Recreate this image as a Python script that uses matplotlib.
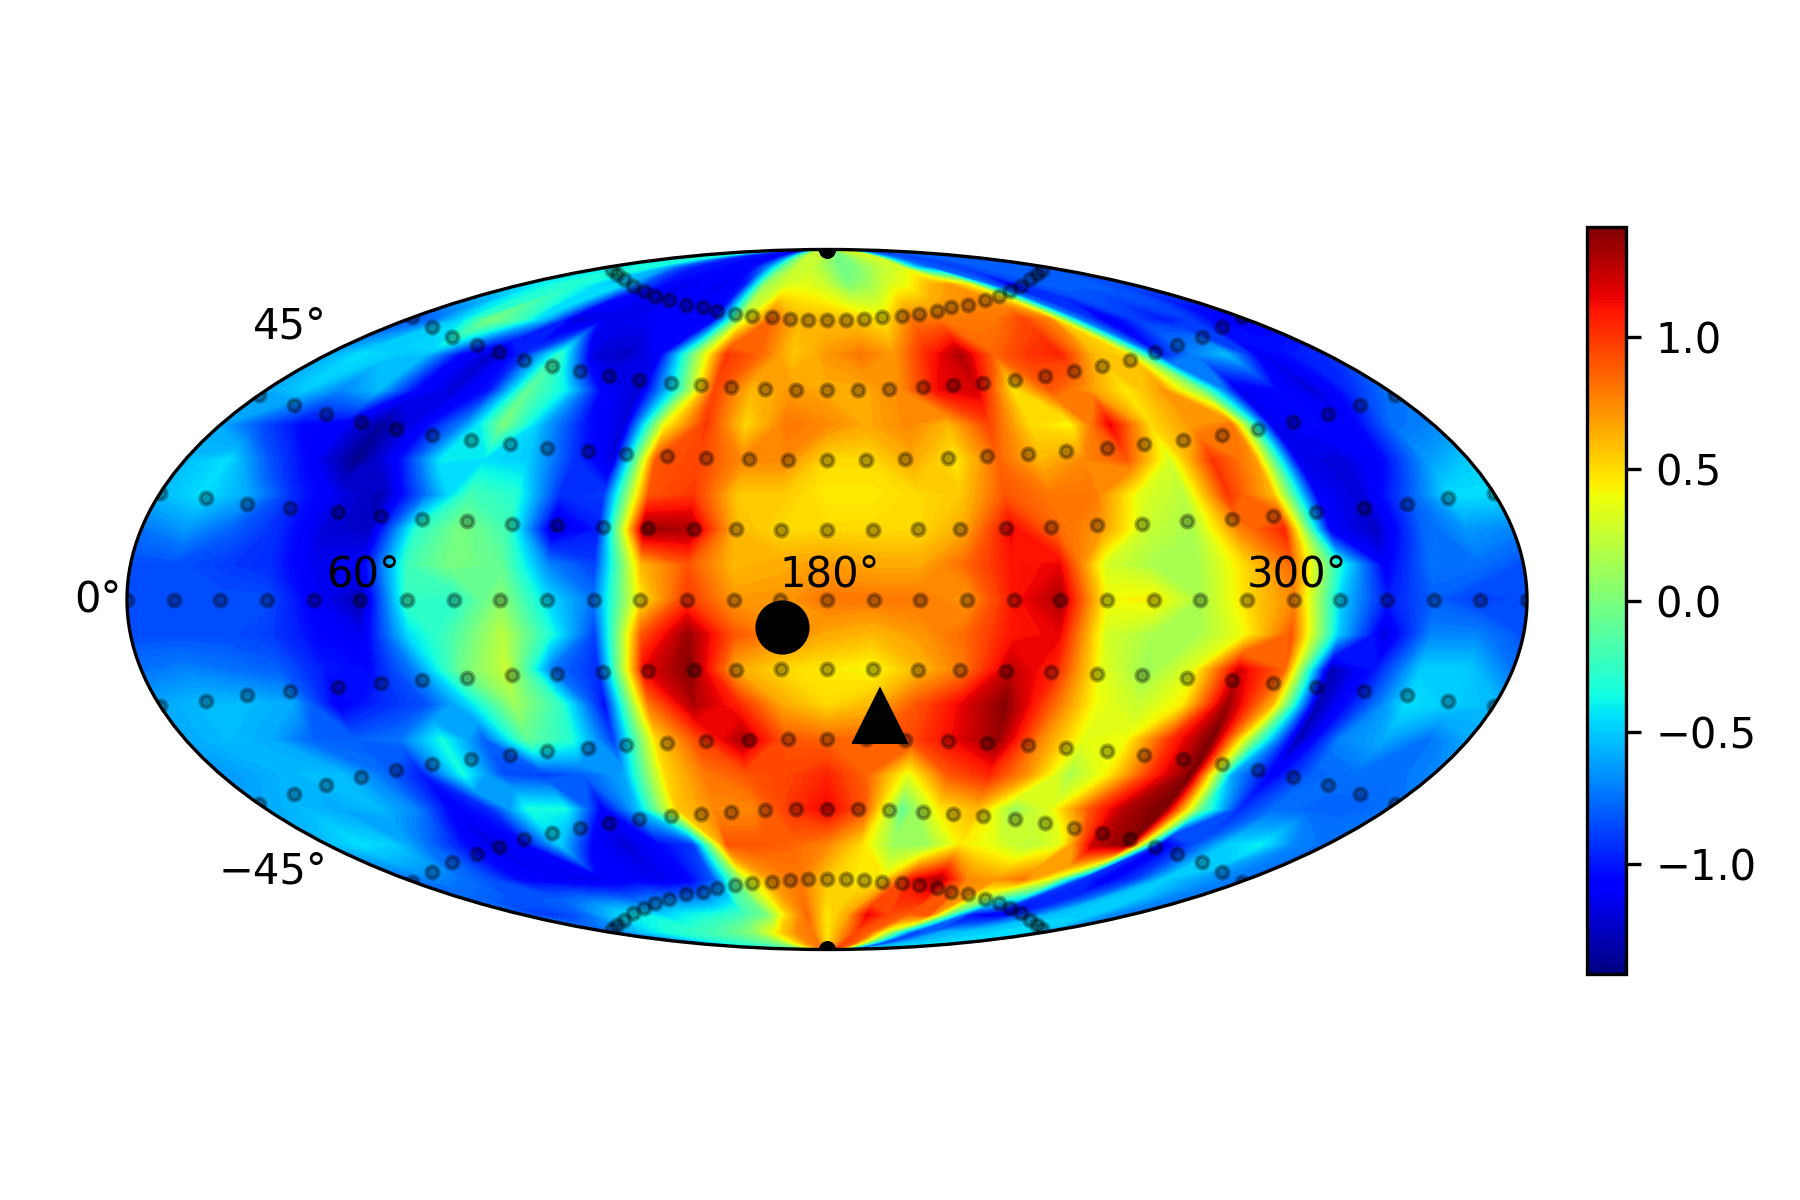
import numpy as np
import matplotlib
matplotlib.use('Agg')
import matplotlib.pyplot as plt
from matplotlib.cm import ScalarMappable
from matplotlib.colors import Normalize
from matplotlib.transforms import Affine2D

# field: one row per latitude, one column per longitude (0..360 deg, 12 deg steps)
lons_deg = np.arange(0, 361, 12)
lats_deg = [-90, -80.6, -74.3, -63.6, -54.3, -45.6, -37.5, -29.7, -22.1, -14.65, -7.3, 0,
            7.3, 14.65, 22.1, 29.7, 37.5, 45.6, 54.3, 63.6, 74.3, 80.6, 90]

s90 = [-.75,-.7,-.55,-.45,-.35,-.3,-.25,-.2,-.15,-.05,.05,.3,.55,.75,.8,.45,.7,.95,.85,.3,-.3,-.9,-.8,-.6,-.55,-.5,-.5,-.45,-.45,-.5,-.6]
s81 = [-.75,-.7,-.55,-.45,-.35,-.3,-.25,-.2,-.15,-.05,.05,.3,.55,.75,.8,.45,.7,.95,.85,.3,-.3,-.9,-.8,-.6,-.55,-.5,-.5,-.45,-.45,-.5,-.6]
s74 = [-.8,-.9,-.9,-.8,-.6,-.45,-.4,-.5,-.4,-.35,-.3,-.2,-.05,.5,.85,.45,.65,1.15,.95,.85,.9,-.1,-1.0,-1.1,-1.05,-.8,-.55,-.5,-.5,-.7,-.75]
s64 = [-.75,-.7,-.75,-.85,-1.05,-1.1,-1.15,-1.15,-1.1,-1.15,-1.1,-.8,.2,.7,.8,.55,.45,.45,1.1,1.3,.75,.7,.8,.3,-.9,-1.1,-.9,-.5,-.6,-.7,-.75]
s54 = [-.55,-.45,-.5,-.75,-1.0,-1.2,-1.05,-.5,-1.1,-1.2,-1.05,-.9,.9,.9,.85,.75,.5,.1,.1,.45,.35,.2,.35,1.25,1.4,-1.15,-.85,-.5,-.4,-.7,-.75]
s46 = [-.6,-.55,-.6,-.55,-.7,-1.1,-.95,-.35,-.35,-1.1,-.5,.55,.75,.75,1.0,1.15,.9,-.1,.45,.6,.1,.35,.9,1.3,1.43,-.1,-.95,-.75,-.8,-.8,-.75]
s38 = [-.65,-.6,-.55,-.55,-.75,-1.0,-.35,-.85,-.9,-.8,-.6,.5,.8,.9,.95,1.05,.85,.35,.9,1.05,.7,.15,.45,1.0,1.43,-.6,-1.1,-.8,-.75,-.75,-.7]
s30 = [-.6,-.55,-.6,-.8,-.8,-.75,-.35,-.8,-.1,-.3,-.9,.5,.95,1.3,.9,.85,.85,.95,1.15,1.35,.75,.35,.4,1.0,1.43,-.05,-1.3,-.7,-.6,-.75,-.6]
s22 = [-.6,-.55,-.55,-.6,-1.1,-.95,-.85,-.45,.1,-.25,-1.05,.8,1.3,1.05,.65,.5,.6,.9,1.15,1.4,.9,.4,.25,.45,1.35,.6,-1.3,-.9,-.45,-.5,-.55]
s15 = [-.75,-.7,-.75,-.8,-1.0,-1.05,-.7,-.05,.25,-.75,-.95,1.15,1.4,.65,.5,.45,.4,.6,.8,1.25,1.05,.35,.1,.35,1.2,.85,-1.3,-1.0,-.5,-.5,-.75]
s07 = [-.85,-.85,-.85,-.9,-1.05,-1.15,-.45,-.15,.2,-.3,-.9,.9,1.35,.9,.75,.65,.6,.7,.85,1.1,1.15,.3,.15,.15,.4,.9,-.5,-1.2,-.7,-.7,-.85]
eq0 = [-.85,-.85,-.85,-.85,-1.1,-1.3,-.25,-.3,.05,-.45,-.75,.45,1.0,.7,.7,.8,.8,.8,.7,1.1,1.3,.4,.45,.15,.5,.75,-.5,-1.0,-.8,-.9,-.85]
n07 = [-.85,-.85,-.9,-.95,-1.15,-1.1,-.2,0,-.1,-.7,-.9,.6,.9,.6,.65,.7,.65,.65,.85,1.1,1.15,.3,.15,.15,.5,.85,-.3,-1.1,-.75,-.75,-.85]
n15 = [-.75,-.65,-.8,-.95,-1.2,-1.25,-.3,0,-.2,-1.2,-1.0,1.35,1.3,.6,.5,.5,.5,.5,.65,1.15,.85,.7,.25,.15,.75,1.05,-1.1,-1.25,-.8,-.65,-.7]
n22 = [-.55,-.45,-.6,-.95,-1.15,-1.3,-.75,-.2,-.3,-.95,-.9,.9,1.0,.55,.55,.45,.45,.5,.55,.9,.8,.8,.35,.2,1.0,.6,-1.1,-1.2,-.85,-.45,-.45]
n30 = [-.55,-.45,-.85,-1.1,-1.4,-1.05,-.4,-.45,-.5,-.9,-1.2,.9,.95,.75,.75,.5,.5,.65,.45,.85,.6,.75,.9,.3,1.0,.7,-1.15,-1.2,-1.05,-.65,-.5]
n38 = [-.6,-.85,-1.05,-1.1,-1.35,-1.1,-.7,0,-.6,-1.0,-1.2,.4,1.0,.5,.8,.75,.65,.75,.6,.95,.5,.4,1.15,.5,.7,.8,-1.15,-1.05,-1.1,-.75,-.7]
n46 = [-.6,-.5,-.7,-.55,-1.05,-1.2,-1.0,-.1,-.4,-1.1,-1.2,-.3,.95,.6,.7,.65,.65,.75,1.15,1.2,.45,.9,.7,.45,.7,0,-1.15,-1.05,-1.2,-.95,-.75]
n54 = [-.6,-.45,-.5,-.55,-1.05,-1.25,-.9,-.25,-1.2,-1.25,-1.1,0,1.0,.85,.55,.7,.8,.7,1.05,1.3,.85,1.0,1.05,.6,.5,-1.0,-.7,-.55,-1.15,-1.0,-.95]
n64 = [-.85,-.75,-.45,0,-.2,-.6,-1.2,-1.15,-1.15,-1.1,-1.1,-1.05,.3,.85,.6,.6,.55,.45,.8,.8,.8,.8,.95,.75,-.7,-1.15,-.9,-1.0,-.9,-1.1,-1.1]
n74 = [-.45,-.4,-.3,-.35,-.5,-.45,-.85,-1.05,-1.15,-1.1,-1.15,-1.0,.1,.3,.35,.25,0,.1,.3,.4,.6,.7,.4,-.75,-1.1,-.85,-.8,-.8,-.8,-.85,-.85]
n81 = [-.45,-.4,-.35,-.35,-.6,-.85,-1.0,-1.0,-1.05,-1.05,-1.05,-.7,-.1,.25,.25,.1,-.05,0,.15,.25,.3,-.5,-.8,-.85,-.9,-.85,-.8,-.8,-.8,-.8,-.85]
n90 = [-.45,-.4,-.35,-.35,-.6,-.85,-1.0,-1.0,-1.05,-1.05,-1.05,-.7,-.1,.25,.25,.1,-.05,0,.15,.25,.3,-.5,-.8,-.85,-.9,-.85,-.8,-.8,-.8,-.8,-.85]
field = np.array([s90, s81, s74, s64, s54, s46, s38, s30, s22, s15, s07, eq0,
                  n07, n15, n22, n30, n38, n46, n54, n64, n74, n81, n90])
vmin, vmax = -1.42, 1.42

# sample points, western half of the northern hemisphere (lon 180 down to 0)
eq_lon = [180,168,156,144,132,120,108,96,84,72,60,48,36,24,12,0]
eq_lat = [0]*16
r1_lon = [180,168,156,145,133,121,109,97,85,73,62,50,37,25,13,0]
r1_lat = [14.6,14.6,14.8,14.8,15.0,15.2,15.6,15.8,16.5,16.9,17.5,18.4,19.2,20.1,21.4,22.5]
r2_lon = [180,169,158,146,135,123,112,100,89,77,65,53,41,28,15,0]
r2_lat = [29.6,29.6,29.8,30.1,30.5,31.0,31.6,32.3,33.2,34.1,35.2,36.6,38.1,40.0,42.1,44.4]
r3_lon = [180,170,160,149,139,129,118,107,96,85,73,61,49,34,18,0]
r3_lat = [45.6,45.6,45.9,46.3,46.8,47.3,48.0,49.0,50.2,51.5,53.0,54.8,56.6,58.9,61.6,64.2]
r4_lon = [180,172,164,156,147,139,130,122,113,102,91,80,67,51,32,15]
r4_lat = [63.6,63.6,63.9,64.2,64.7,65.3,66.2,67.1,67.9,69.2,70.7,72.3,73.9,76.0,78.1,79.6]
pole_lat = 89.9

circle_lon, circle_lat = 168.3, -5.8
triangle_lon, triangle_lat = 194.5, -24.6

cbar_ticks = [-1.0, -0.5, 0.0, 0.5, 1.0]
xtick_lons = [60, 180, 300]
xtick_labels = ['60°', '180°', '300°']

fig = plt.figure(figsize=(6, 4), dpi=300)
ax = fig.add_axes([127/1800, 1-949.5/1200, 1400/1800, 700/1200], projection='mollweide')


def rad(lon):
    return np.radians(np.asarray(lon, float) - 180)


lon_grid, lat_grid = np.meshgrid(rad(lons_deg), np.radians(lats_deg))
ax.contourf(lon_grid, lat_grid, field, levels=np.linspace(vmin, vmax, 129),
            cmap='jet', vmin=vmin, vmax=vmax, extend='both')

pts = set()
for lo, la in [(eq_lon, eq_lat), (r1_lon, r1_lat), (r2_lon, r2_lat), (r3_lon, r3_lat), (r4_lon, r4_lat)]:
    for a, b in zip(lo, la):
        pts |= {(a, b), (360 - a, b), (a, -b), (360 - a, -b)}
pts = sorted(pts)
all_lon = np.array([p[0] for p in pts] + [180.0] * 32)
all_lat = np.array([p[1] for p in pts] + [pole_lat] * 16 + [-pole_lat] * 16)
ax.plot(rad(all_lon), np.radians(all_lat), ls='none', marker='o', ms=2.9, mew=1,
        mfc='k', mec='k', alpha=0.3, zorder=3)

ax.plot(rad(circle_lon), np.radians(circle_lat), 'o', color='k', ms=12, mew=1, zorder=4)
ax.plot(rad(triangle_lon), np.radians(triangle_lat), '^', color='k', ms=12, mew=1, zorder=4)

ax.grid(False)
ax.set_xticks(rad(xtick_lons))
ax.set_xticklabels(xtick_labels)
ax.set_yticks([0.0])
ax.set_yticklabels(['0°'])
for lbl in ax.get_xticklabels() + ax.get_yticklabels():
    lbl.set_transform(lbl.get_transform() + Affine2D().translate(3, 0))
fig.text(327/1800, 1-338/1200, '45°', ha='right', va='baseline', fontsize=10)
fig.text(327/1800, 1-883/1200, '−45°', ha='right', va='baseline', fontsize=10)

cax = fig.add_axes([1587/1800, 1-974.3/1200, 39/1800, 747.6/1200])
fig.colorbar(ScalarMappable(Normalize(vmin, vmax), 'jet'), cax=cax, ticks=cbar_ticks)

fig.savefig('out.png', dpi=300)
